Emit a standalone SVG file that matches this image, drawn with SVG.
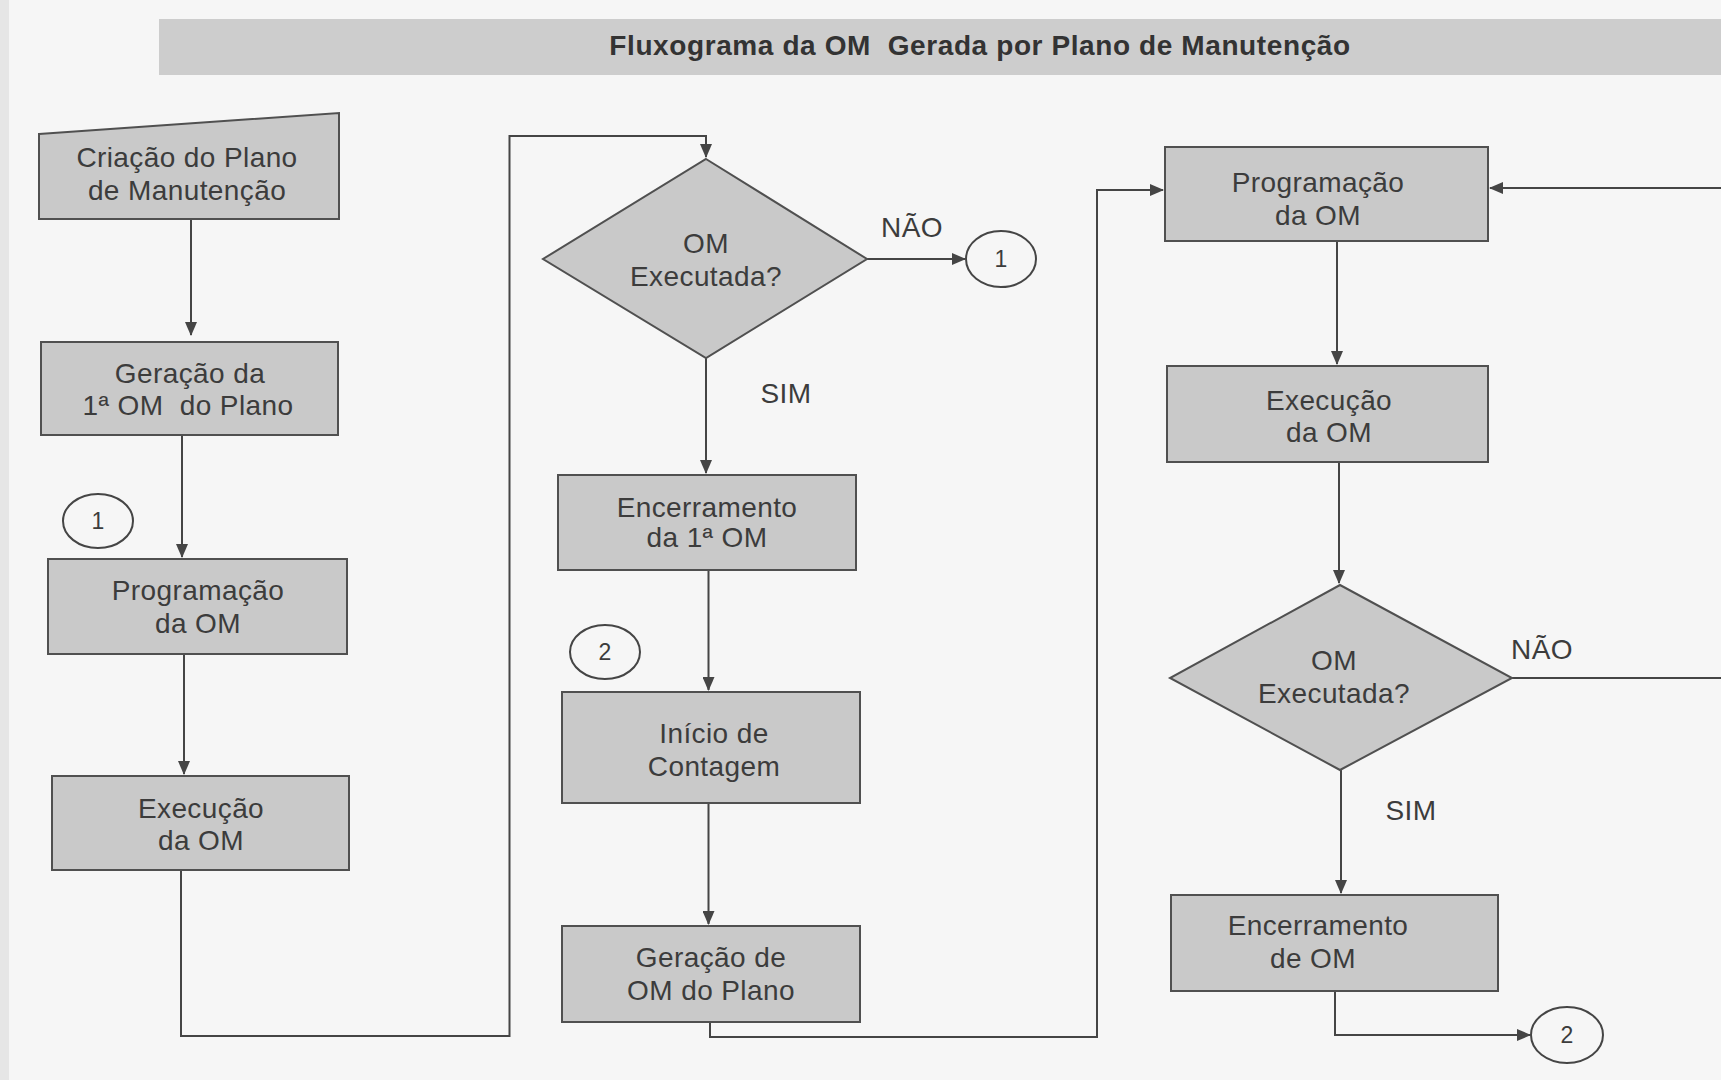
<svg xmlns="http://www.w3.org/2000/svg" width="1721" height="1080" viewBox="0 0 1721 1080">
  <defs>
    <marker id="arr" markerWidth="14" markerHeight="12" refX="13" refY="6" orient="auto" markerUnits="userSpaceOnUse">
      <path d="M0,0 L14,6 L0,12 Z" fill="#454545"/>
    </marker>
    <style>
      .bg { fill: #f6f6f6; }
      .box { fill: #c9c9c9; stroke: #505050; stroke-width: 2; }
      .circ { fill: #f6f6f6; stroke: #454545; stroke-width: 2; }
      .t { font-family: "Liberation Sans", Arial, sans-serif; font-size: 28px; letter-spacing: 0.4px; fill: #3c3c3c; text-anchor: middle; white-space: pre; }
      .n { font-family: "Liberation Sans", Arial, sans-serif; font-size: 23px; fill: #3c3c3c; text-anchor: middle; }
      .title { font-family: "Liberation Sans", Arial, sans-serif; font-size: 28px; font-weight: bold; letter-spacing: 0.6px; fill: #333333; text-anchor: middle; white-space: pre; }
      .c { fill: none; stroke: #454545; stroke-width: 2; }
    </style>
  </defs>

  <rect class="bg" x="0" y="0" width="1721" height="1080"/>
  <rect x="0" y="0" width="9" height="1080" fill="#e6e6e6"/>

  <g id="title">
    <rect x="159" y="19" width="1562" height="56" fill="#cdcdcd"/>
    <text class="title" x="980" y="55">Fluxograma da OM  Gerada por Plano de Manutenção</text>
  </g>

  <g id="connectors">
    <path class="c" d="M191,219 V335" marker-end="url(#arr)"/>
    <path class="c" d="M182,436 V557" marker-end="url(#arr)"/>
    <path class="c" d="M184,654 V774" marker-end="url(#arr)"/>
    <path class="c" d="M181,870 V1036 H509.5 V136 H706 V157" marker-end="url(#arr)"/>
    <path class="c" d="M867,259 H965" marker-end="url(#arr)"/>
    <path class="c" d="M706,358 V473" marker-end="url(#arr)"/>
    <path class="c" d="M708.5,570 V690" marker-end="url(#arr)"/>
    <path class="c" d="M708.5,803 V924" marker-end="url(#arr)"/>
    <path class="c" d="M710,1022 V1037 H1097 V190 H1163" marker-end="url(#arr)"/>
    <path class="c" d="M1721,188 H1490" marker-end="url(#arr)"/>
    <path class="c" d="M1337,241 V364" marker-end="url(#arr)"/>
    <path class="c" d="M1339,462 V583" marker-end="url(#arr)"/>
    <path class="c" d="M1512,678 H1721"/>
    <path class="c" d="M1341,770 V893" marker-end="url(#arr)"/>
    <path class="c" d="M1335,991 V1035 H1530" marker-end="url(#arr)"/>
  </g>

  <g id="criacao-plano">
    <polygon class="box" points="39,134 339,113 339,219 39,219"/>
    <text class="t" x="187" y="167">Criação do Plano</text>
    <text class="t" x="187" y="200">de Manutenção</text>
  </g>

  <g id="geracao-1a-om">
    <rect class="box" x="41" y="342" width="297" height="93"/>
    <text class="t" x="190" y="383">Geração da</text>
    <text class="t" x="188" y="415">1ª OM  do Plano</text>
  </g>

  <g id="conector-1a">
    <ellipse class="circ" cx="98" cy="521" rx="35" ry="27"/>
    <text class="n" x="98" y="529">1</text>
  </g>

  <g id="programacao-1">
    <rect class="box" x="48" y="559" width="299" height="95"/>
    <text class="t" x="198" y="600">Programação</text>
    <text class="t" x="198" y="633">da OM</text>
  </g>

  <g id="execucao-1">
    <rect class="box" x="52" y="776" width="297" height="94"/>
    <text class="t" x="201" y="818">Execução</text>
    <text class="t" x="201" y="850">da OM</text>
  </g>

  <g id="decisao-1">
    <polygon class="box" points="706,159 867,259 706,358 543,259"/>
    <text class="t" x="706" y="253">OM</text>
    <text class="t" x="706" y="286">Executada?</text>
    <text class="t" x="912" y="237">NÃO</text>
    <text class="t" x="786" y="403">SIM</text>
  </g>

  <g id="conector-1b">
    <ellipse class="circ" cx="1001" cy="259" rx="35" ry="28"/>
    <text class="n" x="1001" y="267">1</text>
  </g>

  <g id="encerramento-1a">
    <rect class="box" x="558" y="475" width="298" height="95"/>
    <text class="t" x="707" y="517">Encerramento</text>
    <text class="t" x="707" y="547">da 1ª OM</text>
  </g>

  <g id="conector-2a">
    <ellipse class="circ" cx="605" cy="652" rx="35" ry="27"/>
    <text class="n" x="605" y="660">2</text>
  </g>

  <g id="inicio-contagem">
    <rect class="box" x="562" y="692" width="298" height="111"/>
    <text class="t" x="714" y="743">Início de</text>
    <text class="t" x="714" y="776">Contagem</text>
  </g>

  <g id="geracao-om-plano">
    <rect class="box" x="562" y="926" width="298" height="96"/>
    <text class="t" x="711" y="967">Geração de</text>
    <text class="t" x="711" y="1000">OM do Plano</text>
  </g>

  <g id="programacao-2">
    <rect class="box" x="1165" y="147" width="323" height="94"/>
    <text class="t" x="1318" y="192">Programação</text>
    <text class="t" x="1318" y="225">da OM</text>
  </g>

  <g id="execucao-2">
    <rect class="box" x="1167" y="366" width="321" height="96"/>
    <text class="t" x="1329" y="410">Execução</text>
    <text class="t" x="1329" y="442">da OM</text>
  </g>

  <g id="decisao-2">
    <polygon class="box" points="1340,585 1512,678 1340,770 1170,678"/>
    <text class="t" x="1334" y="670">OM</text>
    <text class="t" x="1334" y="703">Executada?</text>
    <text class="t" x="1542" y="659">NÃO</text>
    <text class="t" x="1411" y="820">SIM</text>
  </g>

  <g id="encerramento-om">
    <rect class="box" x="1171" y="895" width="327" height="96"/>
    <text class="t" x="1318" y="935">Encerramento</text>
    <text class="t" x="1313" y="968">de OM</text>
  </g>

  <g id="conector-2b">
    <ellipse class="circ" cx="1567" cy="1035" rx="36" ry="28"/>
    <text class="n" x="1567" y="1043">2</text>
  </g>
</svg>
